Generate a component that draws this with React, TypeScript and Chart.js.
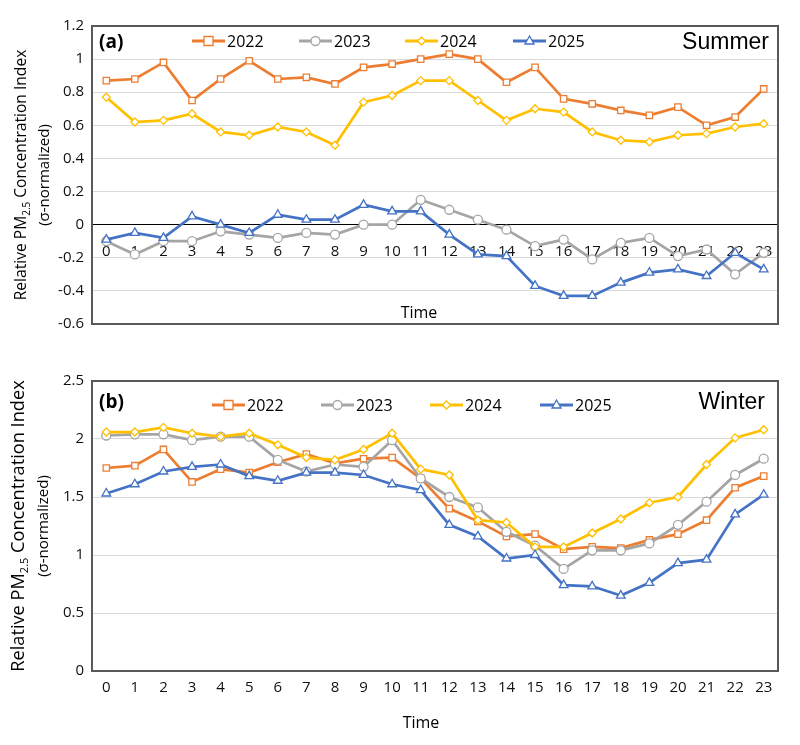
import React, { useEffect, useRef } from 'react';
import { Chart, registerables } from 'chart.js';

Chart.register(...registerables);

const hours = ['0','1','2','3','4','5','6','7','8','9','10','11','12','13','14','15','16','17','18','19','20','21','22','23'];
const seriesNames = ['2022', '2023', '2024', '2025'];

const summer2022 = [0.87,0.88,0.98,0.75,0.88,0.99,0.88,0.89,0.85,0.95,0.97,1.00,1.03,1.00,0.86,0.95,0.76,0.73,0.69,0.66,0.71,0.60,0.65,0.82];
const summer2023 = [-0.10,-0.18,-0.10,-0.10,-0.04,-0.06,-0.08,-0.05,-0.06,0.00,0.00,0.15,0.09,0.03,-0.03,-0.13,-0.09,-0.21,-0.11,-0.08,-0.19,-0.15,-0.30,-0.17];
const summer2024 = [0.77,0.62,0.63,0.67,0.56,0.54,0.59,0.56,0.48,0.74,0.78,0.87,0.87,0.75,0.63,0.70,0.68,0.56,0.51,0.50,0.54,0.55,0.59,0.61];
const summer2025 = [-0.09,-0.05,-0.08,0.05,0.00,-0.05,0.06,0.03,0.03,0.12,0.08,0.08,-0.06,-0.18,-0.19,-0.37,-0.43,-0.43,-0.35,-0.29,-0.27,-0.31,-0.17,-0.27];

const winter2022 = [1.75,1.77,1.91,1.63,1.74,1.71,1.80,1.87,1.79,1.83,1.84,1.66,1.40,1.29,1.16,1.18,1.05,1.07,1.06,1.13,1.18,1.30,1.58,1.68];
const winter2023 = [2.03,2.04,2.04,1.99,2.02,2.02,1.82,1.72,1.78,1.76,1.99,1.66,1.50,1.41,1.20,1.08,0.88,1.04,1.04,1.10,1.26,1.46,1.69,1.83];
const winter2024 = [2.06,2.06,2.10,2.05,2.02,2.05,1.95,1.84,1.82,1.91,2.05,1.74,1.69,1.30,1.28,1.07,1.07,1.19,1.31,1.45,1.50,1.78,2.01,2.08];
const winter2025 = [1.53,1.61,1.72,1.76,1.78,1.68,1.64,1.71,1.71,1.69,1.61,1.56,1.26,1.16,0.97,1.00,0.74,0.73,0.65,0.76,0.93,0.96,1.35,1.52];

const colors = ['#ED7D31', '#A5A5A5', '#FFC000', '#4472C4'];
const markers = ['rect', 'circle', 'rectRot', 'triangle'];
const markerRadius = [4.5, 4.5, 4, 5];

const FONT = '"Open Sans", "Noto Sans", sans-serif';

function drawMarker(ctx: CanvasRenderingContext2D, style: string, x: number, y: number, r: number) {
  ctx.beginPath();
  if (style === 'rect') {
    ctx.rect(x - r, y - r, 2 * r, 2 * r);
  } else if (style === 'circle') {
    ctx.arc(x, y, r, 0, Math.PI * 2);
  } else if (style === 'rectRot') {
    ctx.moveTo(x, y - r); ctx.lineTo(x + r, y); ctx.lineTo(x, y + r); ctx.lineTo(x - r, y); ctx.closePath();
  } else {
    ctx.moveTo(x, y - r); ctx.lineTo(x + r * 0.9, y + r * 0.6); ctx.lineTo(x - r * 0.9, y + r * 0.6); ctx.closePath();
  }
  ctx.fill();
  ctx.stroke();
}

const decorPlugin = {
  id: 'decor',
  afterDraw(chart: any, _args: any, opts: any) {
    const ctx: CanvasRenderingContext2D = chart.ctx;
    const a = chart.chartArea;
    ctx.save();
    // plot-area border
    ctx.strokeStyle = '#595959';
    ctx.lineWidth = 2;
    ctx.strokeRect(a.left, a.top, a.right - a.left, a.bottom - a.top);

    // panel label
    ctx.fillStyle = '#000';
    ctx.textBaseline = 'middle';
    ctx.textAlign = 'left';
    ctx.font = `bold 19px ${FONT}`;
    ctx.fillText(opts.panel, opts.panelX, opts.panelY);

    // season
    ctx.font = '23px "Liberation Sans", Arial, sans-serif';
    ctx.textAlign = 'right';
    ctx.fillText(opts.season, opts.seasonX, opts.panelY);

    // legend
    ctx.textAlign = 'left';
    ctx.font = `16px ${FONT}`;
    chart.data.datasets.forEach((ds: any, i: number) => {
      const x0 = opts.legendX[i];
      const y = opts.legendY;
      ctx.strokeStyle = ds.borderColor;
      ctx.lineWidth = 3;
      ctx.beginPath();
      ctx.moveTo(x0, y);
      ctx.lineTo(x0 + 33, y);
      ctx.stroke();
      ctx.fillStyle = '#fff';
      ctx.lineWidth = 1.3;
      drawMarker(ctx, ds.pointStyle, x0 + 16.5, y, ds.pointRadius);
      ctx.fillStyle = '#000';
      ctx.fillText(ds.label, x0 + 35, y + 1);
    });

    // x title
    ctx.textAlign = 'center';
    ctx.font = `16px ${FONT}`;
    ctx.fillStyle = '#000';
    ctx.fillText('Time', opts.timeX, opts.timeY);

    // y title (rotated, with subscript)
    const cy = (a.top + a.bottom) / 2;
    const s = opts.yTitleSize;
    const big = `${s}px ${FONT}`;
    const small = `${Math.round(s * 0.62)}px ${FONT}`;
    const parts: [string, string, number][] = [
      ['Relative PM', big, 0],
      ['2.5', small, s * 0.3],
      [' Concentration Index', big, 0],
    ];
    ctx.save();
    ctx.translate(opts.yTitleX1, cy);
    ctx.rotate(-Math.PI / 2);
    ctx.textAlign = 'left';
    let total = 0;
    parts.forEach(([t, f]) => { ctx.font = f; total += ctx.measureText(t).width; });
    let x = -total / 2;
    parts.forEach(([t, f, dy]) => {
      ctx.font = f;
      ctx.fillText(t, x, dy);
      x += ctx.measureText(t).width;
    });
    ctx.restore();
    ctx.save();
    ctx.translate(opts.yTitleX2, cy);
    ctx.rotate(-Math.PI / 2);
    ctx.textAlign = 'center';
    ctx.font = `15px ${FONT}`;
    ctx.fillText('(σ-normalized)', 0, 0);
    ctx.restore();

    ctx.restore();
  },
};

function makeDatasets(values: number[][]) {
  return values.map((v, i) => ({
    label: seriesNames[i],
    data: v,
    borderColor: colors[i],
    backgroundColor: colors[i],
    borderWidth: 2.7,
    pointStyle: markers[i],
    pointRadius: markerRadius[i],
    pointBorderWidth: 1.3,
    pointBorderColor: colors[i],
    pointBackgroundColor: '#ffffff',
    tension: 0,
    order: 3 - i,
  }));
}

function fmt(v: number) {
  return String(Number(Number(v).toFixed(1)));
}

function summerConfig(): any {
  return {
    type: 'line',
    data: { labels: hours, datasets: makeDatasets([summer2022, summer2023, summer2024, summer2025]) },
    plugins: [decorPlugin],
    options: {
      animation: false,
      responsive: false,
      layout: { padding: { left: 0, right: 22, top: 26, bottom: 21 } },
      plugins: {
        legend: { display: false },
        tooltip: { enabled: false },
        decor: {
          panel: '(a)', panelX: 99, panelY: 43, season: 'Summer', seasonX: 769,
          legendX: [192, 299, 405, 513], legendY: 41,
          timeX: 419, timeY: 313,
          yTitleSize: 15.6, yTitleX1: 22, yTitleX2: 45,
        },
      },
      scales: {
        x: {
          type: 'category',
          position: { y: 0 },
          offset: true,
          grid: { display: false, drawTicks: false },
          border: { display: true, color: '#000', width: 1 },
          ticks: { color: '#111', font: { size: 15, family: FONT }, padding: 18, maxRotation: 0, autoSkip: false },
        },
        y: {
          min: -0.6,
          max: 1.2,
          afterFit: (s: any) => { s.width = 92; },
          grid: { color: '#D9D9D9', lineWidth: 1, drawTicks: false },
          border: { display: false },
          ticks: { stepSize: 0.2, color: '#111', font: { size: 15, family: FONT }, padding: 8, callback: (v: number) => fmt(v) },
        },
      },
    },
  };
}

function winterConfig(): any {
  return {
    type: 'line',
    data: { labels: hours, datasets: makeDatasets([winter2022, winter2023, winter2024, winter2025]) },
    plugins: [decorPlugin],
    options: {
      animation: false,
      responsive: false,
      layout: { padding: { left: 0, right: 22, top: 36, bottom: 0 } },
      plugins: {
        legend: { display: false },
        tooltip: { enabled: false },
        decor: {
          panel: '(b)', panelX: 99, panelY: 58, season: 'Winter', seasonX: 765,
          legendX: [212, 321, 430, 540], legendY: 60,
          timeX: 421, timeY: 378,
          yTitleSize: 18.2, yTitleX1: 19, yTitleX2: 44,
        },
      },
      scales: {
        x: {
          type: 'category',
          position: 'bottom',
          offset: true,
          afterFit: (s: any) => { s.height = 74; },
          grid: { display: false, drawTicks: false },
          border: { display: false },
          ticks: { color: '#111', font: { size: 15, family: FONT }, padding: 8, maxRotation: 0, autoSkip: false },
        },
        y: {
          min: 0,
          max: 2.5,
          afterFit: (s: any) => { s.width = 92; },
          grid: { color: '#D9D9D9', lineWidth: 1, drawTicks: false },
          border: { display: false },
          ticks: { stepSize: 0.5, color: '#111', font: { size: 15, family: FONT }, padding: 8, callback: (v: number) => fmt(v) },
        },
      },
    },
  };
}

function ChartPanel({ top, height, makeConfig }: { top: number; height: number; makeConfig: () => any }) {
  const ref = useRef<HTMLCanvasElement | null>(null);
  useEffect(() => {
    if (!ref.current) return;
    const chart = new Chart(ref.current, makeConfig());
    return () => chart.destroy();
  }, []);
  return (
    <div style={{ position: 'absolute', left: 0, top, width: 800, height }}>
      <canvas ref={ref} width={800} height={height} style={{ display: 'block', width: 800, height }} />
    </div>
  );
}

export default function App() {
  return (
    <div style={{ position: 'absolute', left: 0, top: 0, width: 800, height: 745, background: '#fff' }}>
      <ChartPanel top={0} height={345} makeConfig={summerConfig} />
      <ChartPanel top={345} height={400} makeConfig={winterConfig} />
    </div>
  );
}
